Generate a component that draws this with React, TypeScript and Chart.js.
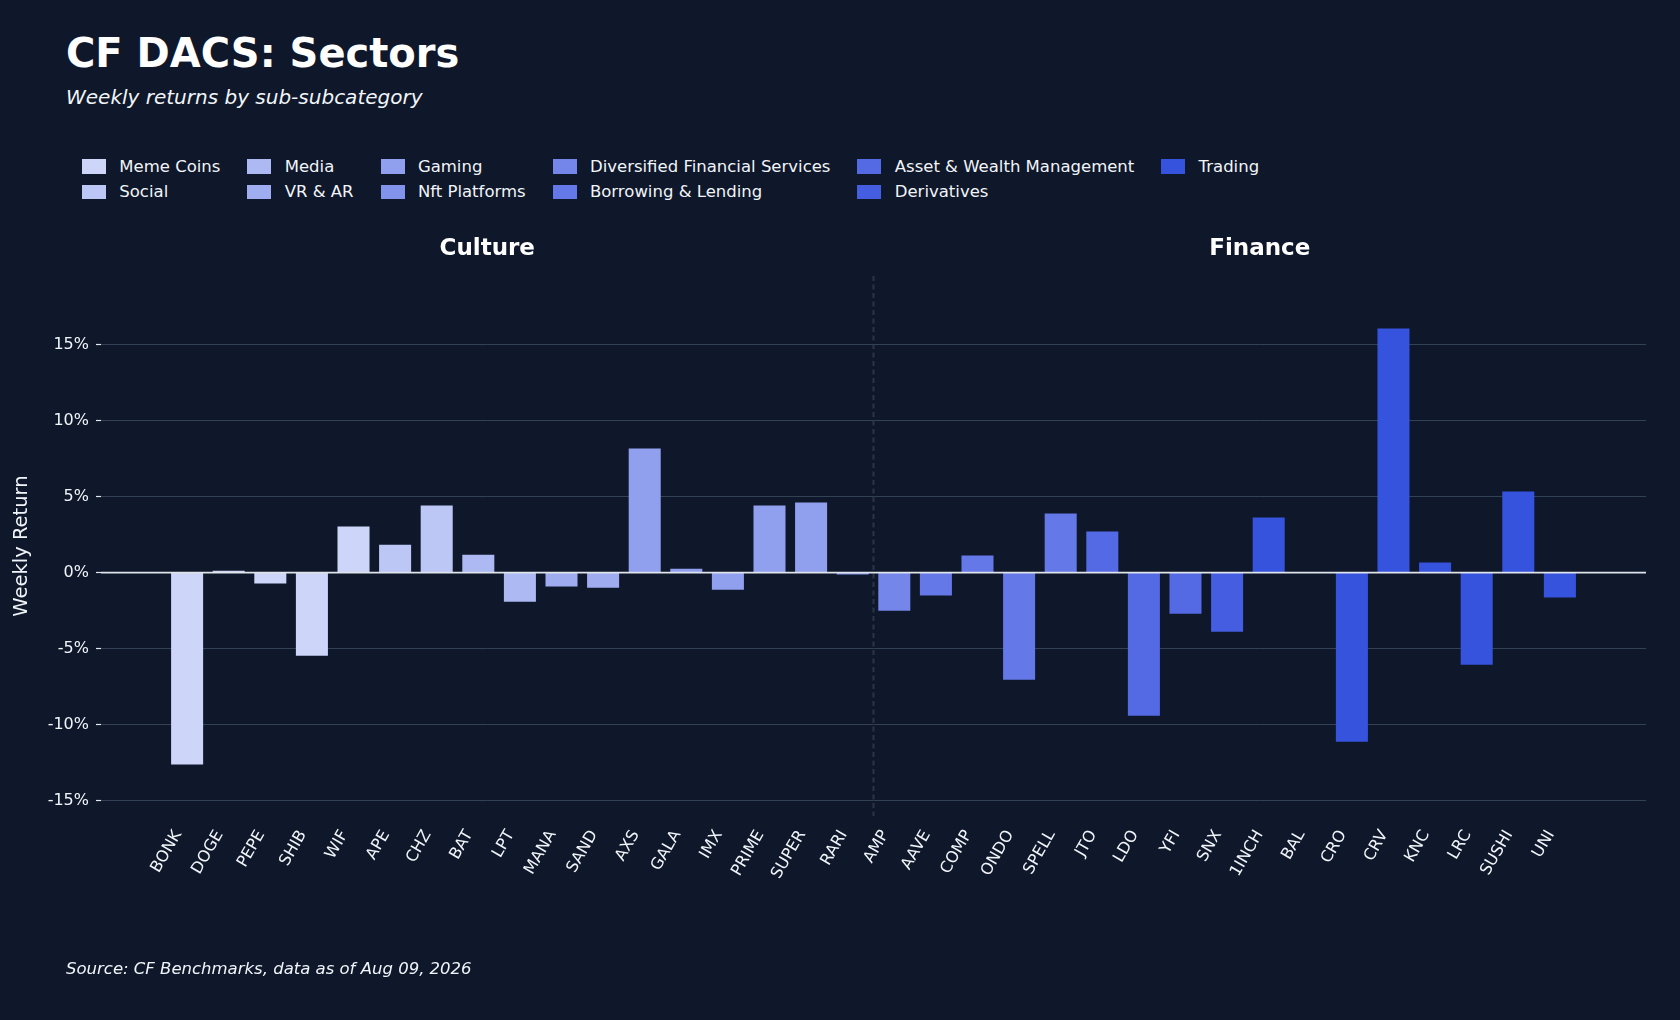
import React, { useEffect, useRef } from "react";
import { Chart, registerables } from "chart.js";

Chart.register(...registerables);

const FONT = "'DejaVu Sans', 'Noto Sans', sans-serif";

// tickers in plotting order, Culture first then Finance
const tickers = [
  "BONK", "DOGE", "PEPE", "SHIB", "WIF", "APE", "CHZ", "BAT", "LPT", "MANA", "SAND",
  "AXS", "GALA", "IMX", "PRIME", "SUPER", "RARI",
  "AMP", "AAVE", "COMP", "ONDO", "SPELL", "JTO", "LDO", "YFI", "SNX",
  "1INCH", "BAL", "CRO", "CRV", "KNC", "LRC", "SUSHI", "UNI",
];

// weekly return, %
const weeklyReturns = [
  -12.61, 0.13, -0.72, -5.46, 3.03, 1.84, 4.41, 1.18, -1.91, -0.92, -0.99,
  8.16, 0.26, -1.12, 4.41, 4.61, -0.13,
  -2.5, -1.51, 1.12, -7.04, 3.88, 2.7, -9.41, -2.7, -3.88,
  3.62, 0.02, -11.12, 16.05, 0.66, -6.05, 5.33, -1.64,
];

const tickerGroups = [
  "Meme Coins", "Meme Coins", "Meme Coins", "Meme Coins", "Meme Coins",
  "Social", "Social", "Media", "Media", "VR & AR", "VR & AR",
  "Gaming", "Gaming", "Gaming", "Gaming", "Gaming", "Nft Platforms",
  "Diversified Financial Services",
  "Borrowing & Lending", "Borrowing & Lending", "Borrowing & Lending", "Borrowing & Lending",
  "Asset & Wealth Management", "Asset & Wealth Management", "Asset & Wealth Management",
  "Derivatives",
  "Trading", "Trading", "Trading", "Trading", "Trading", "Trading", "Trading", "Trading",
];

const groupNames = [
  "Meme Coins", "Social", "Media", "VR & AR", "Gaming", "Nft Platforms",
  "Diversified Financial Services", "Borrowing & Lending",
  "Asset & Wealth Management", "Derivatives", "Trading",
];

const groupColors = [
  "#cdd5f8", "#bdc7f5", "#adb9f3", "#9fadf0", "#91a0ee", "#8293eb",
  "#7486e9", "#6478e7", "#546ae4", "#445de1", "#3653de",
];

const sectorNames = ["Culture", "Finance"];
const sectorSizes = [17, 17];

const yTicks = [-15, -10, -5, 0, 5, 10, 15];

const BG = "#0f172a";
const TEXT = "#f1f5f9";

const overlay = {
  id: "overlay",
  beforeDatasetsDraw(chart: any) {
    const { ctx, chartArea, scales } = chart;
    const split = scales.x.getPixelForValue(sectorSizes[0] - 0.5);
    ctx.save();
    ctx.strokeStyle = "rgba(51,65,85,0.75)";
    ctx.lineWidth = 2;
    ctx.setLineDash([5, 3.5]);
    ctx.beginPath();
    ctx.moveTo(split, chartArea.top);
    ctx.lineTo(split, chartArea.bottom);
    ctx.stroke();
    ctx.restore();
  },
  afterDatasetsDraw(chart: any) {
    const { ctx, chartArea, scales } = chart;
    const y0 = scales.y.getPixelForValue(0);
    ctx.save();
    ctx.strokeStyle = "#dfe3ea";
    ctx.lineWidth = 1.8;
    ctx.beginPath();
    ctx.moveTo(chartArea.left, y0);
    ctx.lineTo(chartArea.right, y0);
    ctx.stroke();
    ctx.restore();
  },
  afterDraw(chart: any) {
    const { ctx, chartArea, scales } = chart;
    const split = scales.x.getPixelForValue(sectorSizes[0] - 0.5);
    const edges = [chartArea.left, split, chartArea.right];
    ctx.save();
    ctx.fillStyle = "#ffffff";
    ctx.font = `bold 23px ${FONT}`;
    ctx.textAlign = "center";
    ctx.textBaseline = "alphabetic";
    sectorNames.forEach((name, i) => {
      ctx.fillText(name, (edges[i] + edges[i + 1]) / 2, chartArea.top - 21);
    });
    ctx.restore();
  },
};

const App: React.FC = () => {
  const canvasRef = useRef<HTMLCanvasElement | null>(null);

  useEffect(() => {
    if (!canvasRef.current) return;
    const chart = new Chart(canvasRef.current, {
      type: "bar",
      data: {
        datasets: [
          {
            data: weeklyReturns.map((v, i) => ({ x: i, y: v })),
            backgroundColor: tickerGroups.map((g) => groupColors[groupNames.indexOf(g)]),
            borderWidth: 0,
            categoryPercentage: 1,
            barPercentage: 0.77,
          },
        ],
      },
      options: {
        responsive: false,
        animation: false,
        events: [],
        layout: { padding: { top: 56, right: 34, left: 0, bottom: 0 } },
        plugins: {
          legend: { display: false },
          title: { display: false },
          tooltip: { enabled: false },
        },
        scales: {
          x: {
            type: "linear",
            offset: false,
            min: -2.07,
            max: tickers.length - 1 + 2.07,
            afterBuildTicks: (s: any) => {
              s.ticks = tickers.map((_, i) => ({ value: i }));
            },
            afterFit: (s: any) => {
              s.height = 204;
            },
            grid: { display: false, drawTicks: false, offset: false },
            border: { display: false },
            ticks: {
              autoSkip: false,
              maxRotation: 60,
              minRotation: 60,
              padding: 11,
              labelOffset: -9,
              color: TEXT,
              font: { family: FONT, size: 16 },
              callback: (v: any) => tickers[v] ?? "",
            },
          },
          y: {
            min: -16,
            max: 19.5,
            afterBuildTicks: (s: any) => {
              s.ticks = yTicks.map((v) => ({ value: v }));
            },
            afterFit: (s: any) => {
              s.width = 101;
            },
            border: { display: false },
            grid: {
              color: (c: any) => (c.tick && c.tick.value === 0 ? "rgba(0,0,0,0)" : "#334155"),
              lineWidth: 1,
              tickLength: 5,
              tickColor: "#e2e8f0",
              tickWidth: 1.2,
            },
            ticks: {
              padding: 7,
              color: TEXT,
              font: { family: FONT, size: 16 },
              callback: (v: any) => `${v}%`,
            },
            title: {
              display: true,
              text: "Weekly Return",
              color: TEXT,
              font: { family: FONT, size: 19.5 },
              padding: { top: 10, bottom: 0 },
            },
          },
        },
      },
      plugins: [overlay],
    } as any);
    return () => chart.destroy();
  }, []);

  return (
    <div
      style={{
        position: "absolute",
        left: 0,
        top: 0,
        width: 1680,
        height: 1020,
        background: BG,
        fontFamily: FONT,
        color: TEXT,
        overflow: "hidden",
      }}
    >
      <div
        style={{
          position: "absolute",
          left: 66,
          top: 32.9,
          fontSize: 40,
          lineHeight: "40px",
          fontWeight: "bold",
          color: "#ffffff",
          whiteSpace: "nowrap",
        }}
      >
        CF DACS: Sectors
      </div>
      <div
        style={{
          position: "absolute",
          left: 66,
          top: 87.1,
          fontSize: 20,
          lineHeight: "20px",
          fontStyle: "italic",
          whiteSpace: "nowrap",
        }}
      >
        Weekly returns by sub-subcategory
      </div>
      <div
        style={{
          position: "absolute",
          left: 82,
          top: 153.7,
          display: "grid",
          gridTemplateRows: "25.7px 25.7px",
          gridAutoFlow: "column",
          columnGap: 27,
          fontSize: 16.5,
          lineHeight: "25.7px",
        }}
      >
        {groupNames.map((name, i) => (
          <div key={name} style={{ display: "flex", alignItems: "center", whiteSpace: "nowrap" }}>
            <span
              style={{
                display: "inline-block",
                width: 24,
                height: 14.4,
                marginRight: 13.3,
                background: groupColors[i],
              }}
            />
            <span>{name}</span>
          </div>
        ))}
      </div>
      <canvas
        ref={canvasRef}
        width={1680}
        height={800}
        style={{ position: "absolute", left: 0, top: 220, width: 1680, height: 800 }}
      />
      <div
        style={{
          position: "absolute",
          left: 66,
          top: 961,
          fontSize: 16.5,
          lineHeight: "16.5px",
          fontStyle: "italic",
          whiteSpace: "nowrap",
        }}
      >
        Source: CF Benchmarks, data as of Aug 09, 2026
      </div>
    </div>
  );
};

export default App;
